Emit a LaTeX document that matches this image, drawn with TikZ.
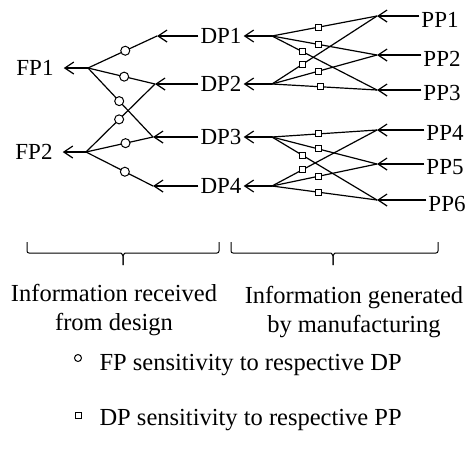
\documentclass[tikz,border=0pt]{standalone}
\usepackage{fontspec}
\setmainfont{Liberation Serif}
\usetikzlibrary{arrows.meta}

\begin{document}
\begin{tikzpicture}[
            x=1pt, y=-1pt,
            lbl/.style={inner sep=2pt, font=\fontsize{23}{27}\selectfont},
            txt/.style={align=center, font=\fontsize{24.5}{28.5}\selectfont},
            arr/.style={-{Straight Barb[length=9pt,width=12pt]}, line width=1.2pt},
            link/.style={line width=1.2pt},
            fpdp/.style={circle, draw, fill=white, line width=1pt, inner sep=0pt, minimum size=9pt},
            dppp/.style={rectangle, draw, fill=white, line width=1pt, inner sep=0pt, minimum size=6pt},
            bracket/.style={line width=1pt, rounded corners=2pt}
        ]
            \useasboundingbox (0,0) rectangle (468,459);

            % functional requirements
            \node[lbl] (fp1) at (35,68) {FP1};
            \node[lbl] (fp2) at (34,152) {FP2};
            \coordinate (fp1j) at (88,68);
            \coordinate (fp2j) at (86,152);

            % design parameters
            \node[lbl] (dp1) at (221,36) {DP1};
            \node[lbl] (dp2) at (221,84) {DP2};
            \node[lbl] (dp3) at (221,137) {DP3};
            \node[lbl] (dp4) at (221,186) {DP4};
            \coordinate (dp1l) at (157,36);
            \coordinate (dp2l) at (155,84);
            \coordinate (dp3l) at (153,137);
            \coordinate (dp4l) at (153,186);
            \coordinate (dp1r) at (272,36);
            \coordinate (dp2r) at (272,84);
            \coordinate (dp3r) at (272,137);
            \coordinate (dp4r) at (272,186);

            % process parameters
            \node[lbl] (pp1) at (440,20) {PP1};
            \node[lbl] (pp2) at (442,59) {PP2};
            \node[lbl] (pp3) at (442,93) {PP3};
            \node[lbl] (pp4) at (445,133) {PP4};
            \node[lbl] (pp5) at (445,167) {PP5};
            \node[lbl] (pp6) at (447,204) {PP6};
            \coordinate (pp1j) at (377,16);
            \coordinate (pp2j) at (377,55);
            \coordinate (pp3j) at (377,90);
            \coordinate (pp4j) at (377,130);
            \coordinate (pp5j) at (377,164);
            \coordinate (pp6j) at (377,200);

            \draw[arr, shorten >=8pt] (fp1j) -- (fp1.east);
            \draw[arr, shorten >=8pt] (fp2j) -- (fp2.east);

            \draw[arr] (dp1.west) -- (dp1l);
            \draw[arr] (dp2.west) -- (dp2l);
            \draw[arr] (dp3.west) -- (dp3l);
            \draw[arr] (dp4.west) -- (dp4l);
            \draw[arr] (dp1r) -- (dp1.east);
            \draw[arr] (dp2r) -- (dp2.east);
            \draw[arr] (dp3r) -- (dp3.east);
            \draw[arr] (dp4r) -- (dp4.east);

            \draw[arr] (pp1.west |- pp1j) -- (pp1j);
            \draw[arr] (pp2.west |- pp2j) -- (pp2j);
            \draw[arr] (pp3.west |- pp3j) -- (pp3j);
            \draw[arr] (pp4.west |- pp4j) -- (pp4j);
            \draw[arr] (pp5.west |- pp5j) -- (pp5j);
            \draw[arr] (pp6.west |- pp6j) -- (pp6j);

            % FP to DP
            \draw[link] (fp1j) -- node[fpdp, pos=0.54] {} (dp1l);
            \draw[link] (fp1j) -- node[fpdp, pos=0.54] {} (dp2l);
            \draw[link] (fp1j) -- node[fpdp, pos=0.48] {} (dp3l);
            \draw[link] (fp2j) -- node[fpdp, pos=0.48] {} (dp2l);
            \draw[link] (fp2j) -- node[fpdp, pos=0.59] {} (dp3l);
            \draw[link] (fp2j) -- node[fpdp, pos=0.58] {} (dp4l);

            % DP to PP
            \draw[link] (dp1r) -- node[dppp, pos=0.44] {} (pp1j);
            \draw[link] (dp1r) -- node[dppp, pos=0.44] {} (pp2j);
            \draw[link] (dp1r) -- node[dppp, pos=0.29] {} (pp3j);
            \draw[link] (dp2r) -- node[dppp, pos=0.29] {} (pp1j);
            \draw[link] (dp2r) -- node[dppp, pos=0.44] {} (pp2j);
            \draw[link] (dp2r) -- node[dppp, pos=0.46] {} (pp3j);
            \draw[link] (dp3r) -- node[dppp, pos=0.44] {} (pp4j);
            \draw[link] (dp3r) -- node[dppp, pos=0.44] {} (pp5j);
            \draw[link] (dp3r) -- node[dppp, pos=0.29] {} (pp6j);
            \draw[link] (dp4r) -- node[dppp, pos=0.29] {} (pp4j);
            \draw[link] (dp4r) -- node[dppp, pos=0.44] {} (pp5j);
            \draw[link] (dp4r) -- node[dppp, pos=0.44] {} (pp6j);

            % Braces
            \draw[bracket] (27,242) -- (27,253) -- (119,253) to[out=0,in=90] (123,258) -- (123,265);
            \draw[bracket] (123,265) -- (123,258) to[out=90,in=180] (127,253) -- (219,253) -- (219,242);
            \draw[bracket] (231,242) -- (231,253) -- (329,253) to[out=0,in=90] (333,258) -- (333,265);
            \draw[bracket] (333,265) -- (333,258) to[out=90,in=180] (337,253) -- (438,253) -- (438,242);
            \node[txt] (design) at (114,310) {Information received\\from design};
            \node[txt] (manuf) at (354,312) {Information generated\\by manufacturing};

            % Legend
            \node[fpdp, minimum size=7pt] (keyfp) at (78,358) {};
            \node[txt, anchor=base west] (keyfptxt) at (96,370) {FP sensitivity to respective DP};
            \node[dppp] (keydp) at (78,415) {};
            \node[txt, anchor=base west] (keydptxt) at (96,425) {DP sensitivity to respective PP};
\end{tikzpicture}
\end{document}
